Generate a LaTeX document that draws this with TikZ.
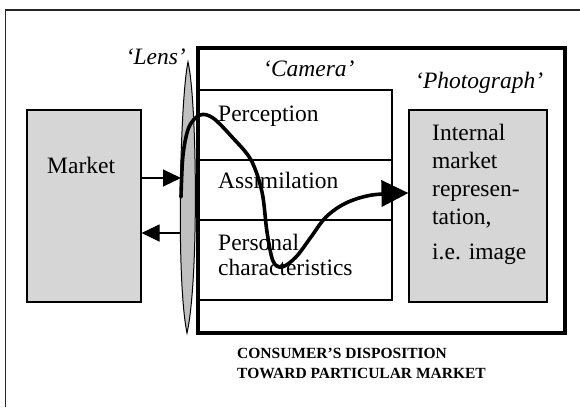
\documentclass[tikz,border=0pt]{standalone}
\usepackage{fontspec}
\setmainfont{Liberation Serif}
\usetikzlibrary{arrows.meta}
\definecolor{boxgray}{RGB}{214,214,214}
\definecolor{lensgray}{RGB}{192,192,192}
\begin{document}
\begin{tikzpicture}[x=1pt,y=-1pt,
  lbl/.style={inner sep=0pt, font=\fontsize{23.5}{28}\selectfont},
  ilbl/.style={inner sep=0pt, font=\fontsize{23.5}{28}\selectfont\itshape},
  blbl/.style={inner sep=0pt, font=\fontsize{15.5}{20}\selectfont\bfseries},
  cell/.style={draw, line width=1.1pt, minimum width=194pt, inner sep=0pt},
  gbox/.style={draw, line width=1.1pt, fill=boxgray, inner sep=0pt},
  cambox/.style={draw, line width=3.5pt, inner sep=0pt},
  harrow/.style={line width=1.1pt, -{Triangle[length=18pt,width=17pt]}},
  bigcurve/.style={line width=3.6pt, line cap=round, line join=round, -{Triangle[length=27pt,width=26pt]}},
  lensstyle/.style={fill=lensgray, draw=black, line width=1pt}
]
\useasboundingbox (0,0) rectangle (580,407);
% outer frame
\draw[line width=1.5pt, black!85] (580,10) -- (5.5,10) -- (5.5,407);

% lens
\draw[lensstyle] (188,62) .. controls (180,100) and (176,280) .. (187,333)
                 .. controls (199,280) and (197,100) .. (188,62) -- cycle;
\coordinate (lensin) at (181,178);
\coordinate (lensout) at (181,233);
\coordinate (lensstart) at (181,197);

% camera box and table
\node[cambox, minimum width=367pt, minimum height=285pt] (camera) at (381.5,190.5) {};
\node[cell, minimum height=70pt] (perc) at (295,125) {};
\node[cell, minimum height=60pt] (assim) at (295,190) {};
\node[cell, minimum height=80pt] (pers) at (295,260) {};

% market and photograph boxes
\node[gbox, minimum width=114pt, minimum height=192pt] (market) at (84,206) {};
\node[gbox, minimum width=138pt, minimum height=192pt] (photo) at (478,206) {};

% labels
\node[ilbl, anchor=base east] (lenslbl) at (186,64) {‘Lens’};
\node[ilbl, anchor=base west] (camlbl) at (263,76) {‘Camera’};
\node[ilbl, anchor=base west] (photolbl) at (415,88) {‘Photograph’};

\node[lbl, anchor=base west] (markettxt) at (47,173) {Market};
\node[lbl, anchor=base west] (perctxt) at (218,121) {Perception};
\node[lbl, anchor=base west] (assimtxt) at (218,188) {Assimilation};
\node[lbl, anchor=base west] (perstxt) at (218,250)
  {\begin{tabular}[t]{@{}l@{}}Personal\\[-3pt]characteristics\end{tabular}};
\node[lbl, anchor=base west] (phototxt) at (432,140)
  {\begin{tabular}[t]{@{}l@{}}Internal\\market\\represen-\\tation,\\[7pt]i.e. image\end{tabular}};

\node[blbl, anchor=base west] (caption) at (237,358)
  {\begin{tabular}[t]{@{}l@{}}CONSUMER’S DISPOSITION\\TOWARD PARTICULAR MARKET\end{tabular}};

% arrows between market and lens
\draw[harrow] (market.east |- lensin) -- (lensin);
\draw[harrow] (lensout) -- (market.east |- lensout);

% curve through the camera
\draw[bigcurve] plot[smooth, tension=0.55] coordinates {
  (lensstart) (183,155) (189,127) (200,115) (213,118) (232,137) (251,160)
  (262,192) (267,232) (273,261) (282,267) (296,257) (311,237) (326,217)
  (346,203) (372,195) ([yshift=13pt]photo.west)};
\end{tikzpicture}
\end{document}
